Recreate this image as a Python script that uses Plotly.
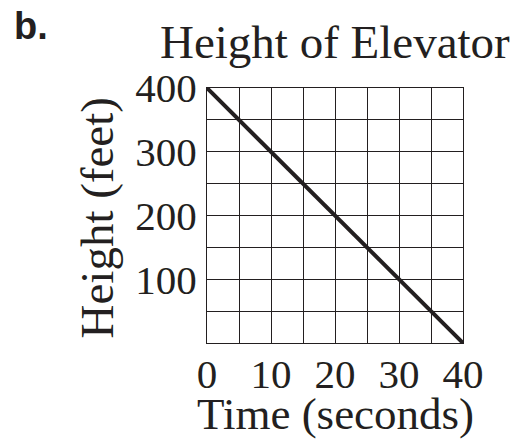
import plotly.graph_objects as go

# Data
time_s = [0, 40]
height_ft = [400, 0]

x_tickvals = [0, 10, 20, 30, 40]
x_ticktext = ["0", "10", "20", "30", "40"]
y_tickvals = [100, 200, 300, 400]
y_ticktext = ["100", "200", "300", "400"]
x_grid_step = 5
y_grid_step = 50

title_text = "Height of Elevator"
x_title = "Time (seconds)"
y_title = "Height (feet)"
label_text = "b."

INK = "#231f20"
SERIF = "Liberation Serif, Times New Roman, serif"

fig = go.Figure()
fig.add_trace(go.Scatter(
    x=time_s, y=height_ft, mode="lines",
    line=dict(color=INK, width=4),
    hoverinfo="skip", showlegend=False,
))

axis_common = dict(
    showgrid=True, gridcolor=INK, gridwidth=1,
    showline=True, linecolor=INK, linewidth=1, mirror=True,
    zeroline=False, ticks="",
    tickfont=dict(family=SERIF, size=41, color=INK),
    fixedrange=True,
)

fig.update_xaxes(range=[0, 40], tickmode="array", tickvals=x_tickvals,
                 ticktext=x_ticktext, ticklabelstandoff=-5,
                 minor=dict(dtick=x_grid_step, tick0=0, showgrid=True,
                            gridcolor=INK, gridwidth=1, ticks=""),
                 **axis_common)
fig.update_yaxes(range=[0, 400], tickmode="array", tickvals=y_tickvals,
                 ticktext=y_ticktext, ticklabelstandoff=1,
                 minor=dict(dtick=y_grid_step, tick0=0, showgrid=True,
                            gridcolor=INK, gridwidth=1, ticks=""),
                 **axis_common)

fig.update_layout(
    width=513, height=442,
    margin=dict(l=207, r=50, t=88, b=99, pad=0),
    paper_bgcolor="white", plot_bgcolor="white",
    showlegend=False,
    annotations=[
        dict(text=title_text, xref="paper", yref="paper", x=0.5, y=1.180,
             xanchor="center", yanchor="middle", showarrow=False,
             font=dict(family=SERIF, size=47, color=INK)),
        dict(text=x_title, xref="paper", yref="paper", x=0.5, y=-0.278,
             xanchor="center", yanchor="middle", showarrow=False,
             font=dict(family=SERIF, size=45, color=INK)),
        dict(text=y_title, xref="paper", yref="paper", x=-0.428, y=0.49,
             xanchor="center", yanchor="middle", showarrow=False, textangle=-90,
             font=dict(family=SERIF, size=47, color=INK)),
        dict(text="<b>" + label_text + "</b>", xref="paper", yref="paper",
             x=-0.762, y=1.243, xanchor="left", yanchor="middle", showarrow=False,
             font=dict(family="Liberation Sans, Arial, sans-serif", size=38, color=INK)),
    ],
)

fig.write_html("out.html", config={"displayModeBar": False},
               post_script="document.body.style.margin='0';")
